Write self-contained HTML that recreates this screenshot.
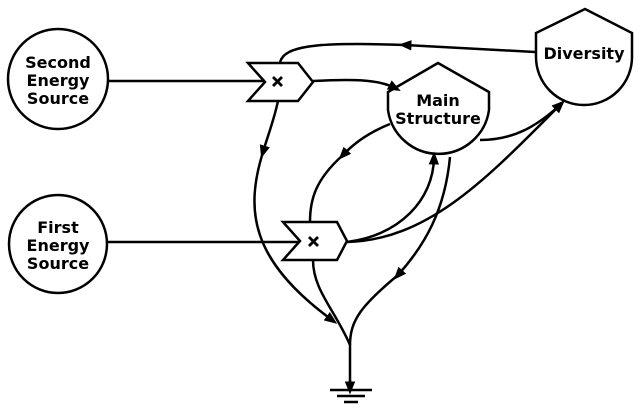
<!DOCTYPE html>
<html><head><style>
body{margin:0;background:#fff;}
svg{display:block}
text{font-family:"DejaVu Sans","Liberation Sans",sans-serif;font-weight:bold;font-size:16px;text-anchor:middle;fill:#000}
</style></head><body>
<svg width="640" height="420" viewBox="0 0 640 420">
<defs><marker id="a" viewBox="0 0 10 10" refX="5" refY="5" markerWidth="13" markerHeight="13" orient="auto-start-reverse" markerUnits="userSpaceOnUse"><path d="M0,1 L10,5 L0,9 z" fill="#000"/></marker></defs>
<g fill="none" stroke="#000" stroke-width="2.5">
<circle cx="58" cy="79" r="50"/>
<circle cx="58" cy="244" r="49"/>
<path d="M248,63 L298,63 L313,82 L298,101 L248,101 L265,82 Z" fill="#fff"/>
<path d="M283,222 L337,222 L347,241 L337,260 L283,260 L300,241 Z" fill="#fff"/>
<path d="M438,63 L489,92 L489,110 A51,51 0 0 1 388,110 L388,92 Z"/>
<path d="M585,9 L632,33 L632,57 A48,48 0 0 1 536,57 L536,33 Z"/>
<path d="M108,81 L265,81"/>
<path d="M107,242 L300,242"/>
<path d="M313,81 C350,79 378,79 395,88" marker-end="url(#a)"/>
<path d="M535,52 L405,45" marker-end="url(#a)"/>
<path d="M405,45 C320,42 283,45 280,63"/>
<path d="M278,101 C274,120 268,135 263,152" marker-end="url(#a)"/>
<path d="M263,152 C245,210 250,260 332,320" marker-end="url(#a)"/>
<path d="M313,260 C313,290 335,310 350,345 L350,385"/>
<path d="M450,157 C445,210 425,245 398,275" marker-end="url(#a)"/>
<path d="M398,275 C362,305 350,320 350,345"/>
<path d="M390,124 C370,132 355,142 343,155" marker-end="url(#a)"/>
<path d="M343,155 C315,180 310,200 310,222"/>
<path d="M347,242 C400,235 433,200 434,158" marker-end="url(#a)"/>
<path d="M347,242 C430,240 490,175 560,105" marker-end="url(#a)"/>
<path d="M480,140 C515,140 538,125 560,105" marker-end="url(#a)"/>
<path d="M350,380 L350,388" marker-end="url(#a)"/>
<path d="M330,390 L372,390 M337,396 L365,396 M344,402 L358,402"/>
</g>
<path d="M273,77 l9,9 M282,77 l-9,9" stroke="#000" stroke-width="2.8"/>
<path d="M309,237 l9,9 M318,237 l-9,9" stroke="#000" stroke-width="2.8"/>
<text x="58" y="68">Second</text><text x="58" y="86">Energy</text><text x="58" y="104">Source</text>
<text x="58" y="233">First</text><text x="58" y="251">Energy</text><text x="58" y="269">Source</text>
<text x="438" y="106">Main</text><text x="438" y="124">Structure</text>
<text x="584" y="59">Diversity</text>
</svg>
</body></html>
